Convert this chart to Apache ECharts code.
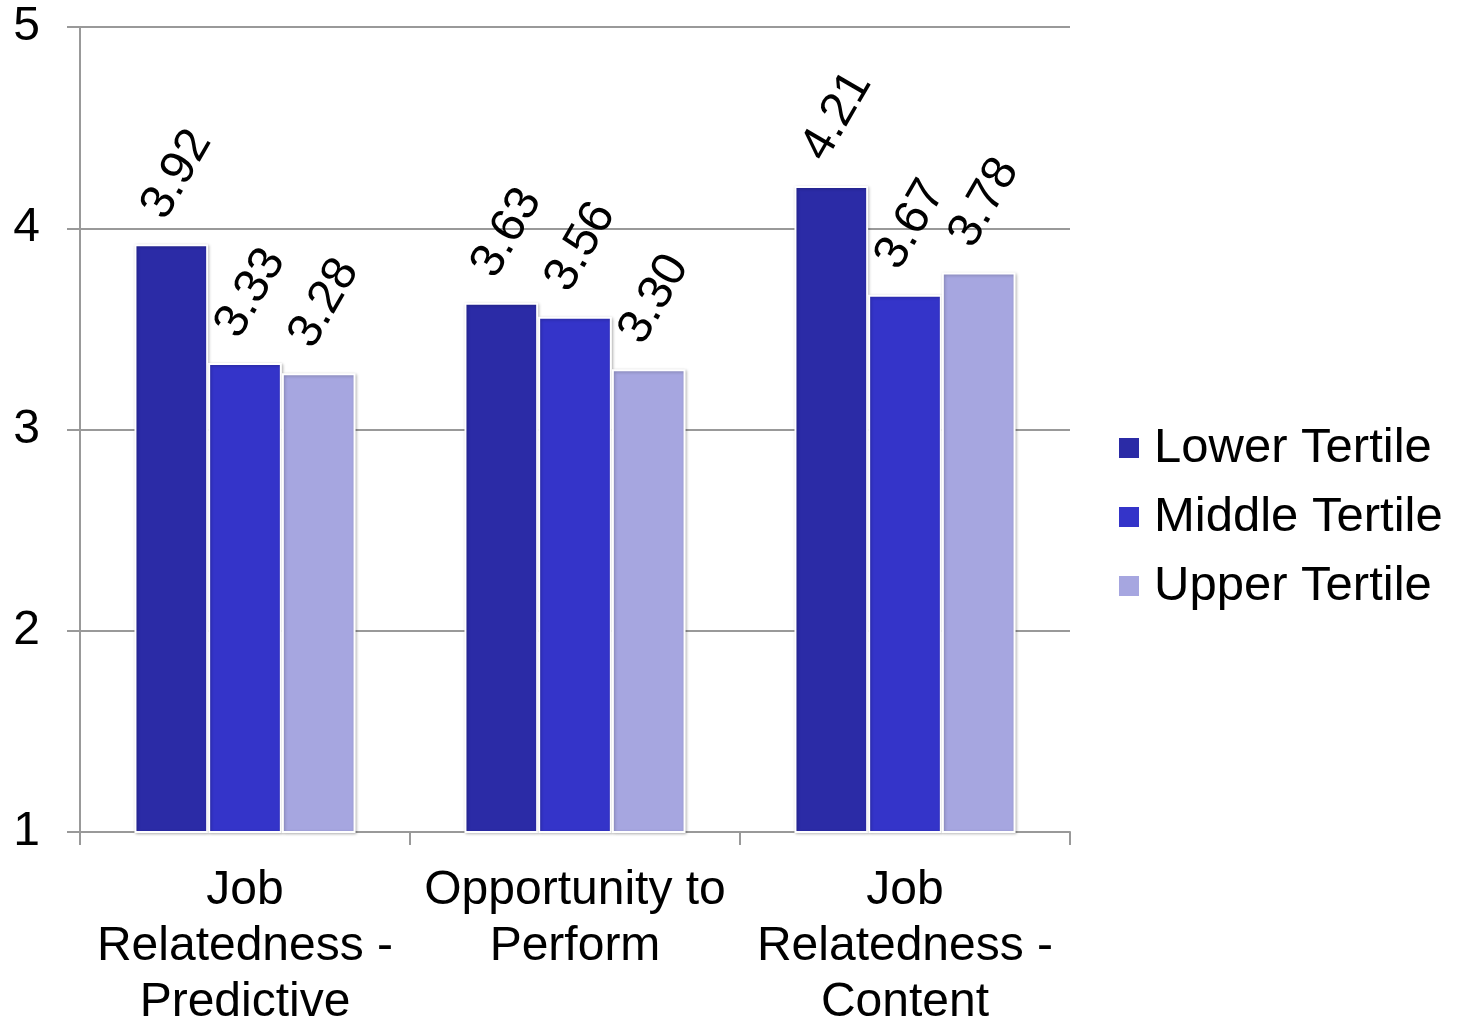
<!DOCTYPE html>
<html>
<head>
<meta charset="utf-8">
<script src="https://cdn.jsdelivr.net/npm/echarts@6/dist/echarts.min.js"></script>
<style>
  html, body { margin: 0; padding: 0; background: #fff; }
  #chart { width: 1459px; height: 1019px; }
</style>
</head>
<body>
<div id="chart"></div>
<script>
// Mean ratings by tertile for each fairness dimension
const categories = ['Job\nRelatedness -\nPredictive', 'Opportunity to\nPerform', 'Job\nRelatedness -\nContent'];
const seriesNames = ['Lower Tertile', 'Middle Tertile', 'Upper Tertile'];
const lowerTertile = [3.92, 3.63, 4.21];
const middleTertile = [3.33, 3.56, 3.67];
const upperTertile = [3.28, 3.30, 3.78];
const yTicks = [1, 2, 3, 4, 5];

const colors = ['#2B2BA6', '#3434C9', '#A6A6E0'];
const FONT = '"Liberation Sans", Arial, sans-serif';

function barSeries(name, data, color) {
  return {
    name: name,
    type: 'bar',
    data: data,
    barGap: '0%',
    barCategoryGap: '33%',
    itemStyle: {
      color: color,
      borderColor: '#ffffff',
      borderWidth: 2,
      shadowColor: 'rgba(0,0,0,0.25)',
      shadowBlur: 3,
      shadowOffsetX: 1,
      shadowOffsetY: 1
    },
    label: {
      show: true,
      position: 'top',
      distance: 72,
      offset: [1, 6],
      rotate: 60,
      align: 'center',
      verticalAlign: 'middle',
      fontFamily: FONT,
      fontSize: 48,
      color: '#000',
      formatter: p => p.value.toFixed(2)
    }
  };
}

const chart = echarts.init(document.getElementById('chart'), null, { renderer: 'canvas', width: 1459, height: 1019 });
chart.setOption({
  animation: false,
  backgroundColor: '#ffffff',
  color: colors,
  grid: { left: 80, right: 389, top: 27, bottom: 187, containLabel: false, outerBoundsMode: 'none' },
  legend: {
    orient: 'vertical',
    left: 1117,
    top: 420,
    padding: 0,
    itemWidth: 22,
    itemHeight: 22,
    itemGap: 13,
    icon: 'rect',
    data: seriesNames,
    textStyle: {
      fontFamily: FONT,
      fontSize: 49,
      lineHeight: 56,
      color: '#000',
      padding: [0, 0, 0, 9]
    }
  },
  xAxis: {
    type: 'category',
    data: categories,
    axisLine: { show: true, lineStyle: { color: '#999', width: 2 } },
    axisTick: { show: true, length: 13, lineStyle: { color: '#999', width: 2 } },
    axisLabel: {
      interval: 0,
      margin: 31,
      fontFamily: FONT,
      fontSize: 48,
      lineHeight: 56,
      color: '#000'
    }
  },
  yAxis: {
    type: 'value',
    min: yTicks[0],
    max: yTicks[yTicks.length - 1],
    interval: 1,
    axisLine: { show: true, lineStyle: { color: '#999', width: 2 } },
    axisTick: { show: true, length: 13, lineStyle: { color: '#999', width: 2 } },
    splitLine: { show: true, lineStyle: { color: '#999', width: 2 } },
    axisLabel: {
      margin: 40,
      fontFamily: FONT,
      fontSize: 48,
      color: '#000'
    }
  },
  series: [
    barSeries(seriesNames[0], lowerTertile, colors[0]),
    barSeries(seriesNames[1], middleTertile, colors[1]),
    barSeries(seriesNames[2], upperTertile, colors[2])
  ]
});
</script>
</body>
</html>
